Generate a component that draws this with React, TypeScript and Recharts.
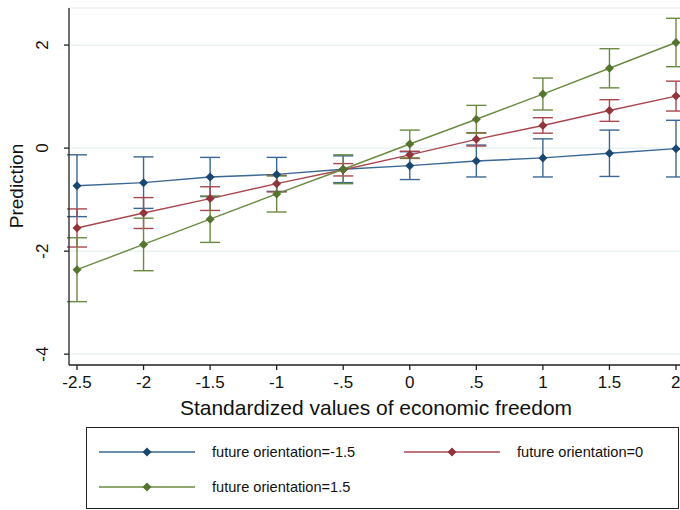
import React from "react";
import { LineChart, Line, XAxis, YAxis, CartesianGrid, ErrorBar, Label } from "recharts";

// x positions (standardized economic freedom)
const xValues = [-2.5, -2, -1.5, -1, -0.5, 0, 0.5, 1, 1.5, 2];
const xTicks = [-2.5, -2, -1.5, -1, -0.5, 0, 0.5, 1, 1.5, 2];
const xTickLabels = ["-2.5", "-2", "-1.5", "-1", "-.5", "0", ".5", "1", "1.5", "2"];
const yTicks = [-4, -2, 0, 2];

// predictions and 95% CI half-widths per future orientation level
const lowMean = [-0.73, -0.67, -0.56, -0.51, -0.41, -0.34, -0.25, -0.19, -0.1, -0.01];
const lowErr = [0.6, 0.5, 0.38, 0.33, 0.26, 0.27, 0.31, 0.37, 0.45, 0.55];
const midMean = [-1.55, -1.26, -0.98, -0.69, -0.42, -0.13, 0.17, 0.44, 0.73, 1.01];
const midErr = [0.37, 0.3, 0.23, 0.16, 0.12, 0.07, 0.13, 0.15, 0.21, 0.29];
const highMean = [-2.36, -1.87, -1.38, -0.89, -0.41, 0.08, 0.56, 1.05, 1.55, 2.05];
const highErr = [0.62, 0.51, 0.45, 0.35, 0.28, 0.27, 0.27, 0.31, 0.38, 0.47];

const seriesNames = ["future orientation=-1.5", "future orientation=0", "future orientation=1.5"];

const BLUE = { line: "#3a6793", mark: "#1a476f" };
const RED = { line: "#a9474f", mark: "#90353b" };
const GREEN = { line: "#6a8a42", mark: "#55752f" };

const FONT = "'Liberation Sans', Arial, sans-serif";

const data = xValues.map((x, i) => ({
  x,
  low: lowMean[i],
  lowErr: lowErr[i],
  mid: midMean[i],
  midErr: midErr[i],
  high: highMean[i],
  highErr: highErr[i],
}));

const diamond = (color: string) => (props: any) => {
  const { cx, cy, index } = props;
  const r = 4.5;
  return (
    <path
      key={`d-${index}`}
      d={`M${cx},${cy - r}L${cx + r},${cy}L${cx},${cy + r}L${cx - r},${cy}Z`}
      fill={color}
    />
  );
};

const YTick = (props: any) => {
  const { x, y, payload } = props;
  const bx = x - 14;
  return (
    <text
      x={bx}
      y={y}
      transform={`rotate(-90 ${bx} ${y})`}
      textAnchor="middle"
      fontSize={17}
      fontFamily={FONT}
      fill="#111"
    >
      {payload.value}
    </text>
  );
};

function LegendItem({ x, y, color, label }: { x: number; y: number; color: { line: string; mark: string }; label: string }) {
  return (
    <g>
      <line x1={x} y1={y} x2={x + 96} y2={y} stroke={color.line} strokeWidth={1.5} />
      <path d={`M${x + 48},${y - 4.5}L${x + 52.5},${y}L${x + 48},${y + 4.5}L${x + 43.5},${y}Z`} fill={color.mark} />
      <text x={x + 113} y={y + 5} fontSize={14.6} fontFamily={FONT} fill="#111">
        {label}
      </text>
    </g>
  );
}

export default function App() {
  return (
    <div style={{ position: "relative", width: 680, height: 510, background: "#fff" }}>
      <style>{"body{margin:0}"}</style>
      <LineChart
        width={680}
        height={510}
        data={data}
        margin={{ top: 8, right: 0, bottom: 105, left: 0 }}
      >
        <CartesianGrid vertical={false} stroke="#e6eff1" strokeWidth={1.2} />
        <XAxis
          type="number"
          dataKey="x"
          domain={[-2.56, 2.03]}
          ticks={xTicks}
          allowDataOverflow
          tickFormatter={(v: number) => xTickLabels[xTicks.indexOf(v)] ?? String(v)}
          tickSize={5}
          tickMargin={6}
          height={40}
          stroke="#222"
          strokeWidth={1.3}
          tick={{ fontSize: 17, fontFamily: FONT, fill: "#111" }}
        >
          <Label
            content={() => (
              <text x={376} y={415} textAnchor="middle" fontSize={21} fontFamily={FONT} fill="#111">
                Standardized values of economic freedom
              </text>
            )}
          />
        </XAxis>
        <YAxis
          type="number"
          domain={[-4.21, 2.72]}
          ticks={yTicks}
          allowDataOverflow
          width={69}
          tickSize={5}
          stroke="#222"
          strokeWidth={1.3}
          tick={<YTick />}
        >
          <Label
            content={() => (
              <text
                x={23}
                y={186}
                transform="rotate(-90 23 186)"
                textAnchor="middle"
                fontSize={19}
                fontFamily={FONT}
                fill="#111"
              >
                Prediction
              </text>
            )}
          />
        </YAxis>
        <Line
          dataKey="low"
          stroke={BLUE.line}
          strokeWidth={1.4}
          dot={diamond(BLUE.mark)}
          activeDot={false}
          isAnimationActive={false}
        >
          <ErrorBar dataKey="lowErr" width={10} stroke={BLUE.line} strokeWidth={1.4} direction="y" isAnimationActive={false} />
        </Line>
        <Line
          dataKey="mid"
          stroke={RED.line}
          strokeWidth={1.4}
          dot={diamond(RED.mark)}
          activeDot={false}
          isAnimationActive={false}
        >
          <ErrorBar dataKey="midErr" width={10} stroke={RED.line} strokeWidth={1.4} direction="y" isAnimationActive={false} />
        </Line>
        <Line
          dataKey="high"
          stroke={GREEN.line}
          strokeWidth={1.4}
          dot={diamond(GREEN.mark)}
          activeDot={false}
          isAnimationActive={false}
        >
          <ErrorBar dataKey="highErr" width={10} stroke={GREEN.line} strokeWidth={1.4} direction="y" isAnimationActive={false} />
        </Line>
      </LineChart>
      <svg
        width={593}
        height={82}
        style={{ position: "absolute", left: 86, top: 427 }}
      >
        <rect x={0.5} y={0.5} width={592} height={81} fill="#fff" stroke="#222" strokeWidth={1} />
        <LegendItem x={13} y={25} color={BLUE} label={seriesNames[0]} />
        <LegendItem x={318} y={25} color={RED} label={seriesNames[1]} />
        <LegendItem x={13} y={60} color={GREEN} label={seriesNames[2]} />
      </svg>
    </div>
  );
}
